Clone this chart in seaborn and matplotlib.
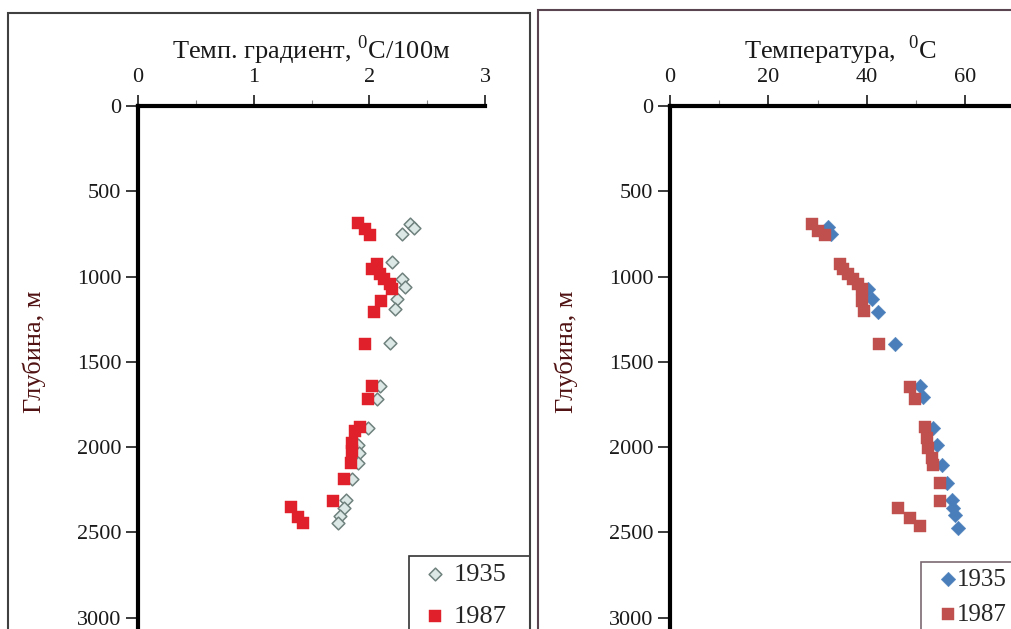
import seaborn as sns
import matplotlib.pyplot as plt
import pandas as pd
from matplotlib.patches import Rectangle
from matplotlib.ticker import MultipleLocator

# gradient panel (left)
grad_1935_depth = [695, 718, 753, 917, 1016, 1063, 1133, 1191, 1389, 1640, 1716,
                   1886, 1991, 2037, 2096, 2189, 2312, 2358, 2405, 2446]
grad_1935 = [2.35, 2.39, 2.28, 2.20, 2.28, 2.31, 2.24, 2.22, 2.18, 2.09, 2.07,
             1.99, 1.90, 1.91, 1.90, 1.85, 1.80, 1.78, 1.75, 1.73]
grad_1987_depth = [689, 724, 759, 928, 957, 987, 1016, 1045, 1074, 1144, 1208, 1395,
                   1640, 1716, 1880, 1909, 1979, 2026, 2096, 2189, 2318, 2353, 2411, 2446]
grad_1987 = [1.90, 1.96, 2.01, 2.07, 2.02, 2.09, 2.13, 2.18, 2.20, 2.10, 2.04, 1.96,
             2.02, 1.99, 1.92, 1.88, 1.85, 1.85, 1.84, 1.78, 1.69, 1.32, 1.38, 1.43]

# temperature panel (right)
temp_1935_depth = [712, 753, 1074, 1133, 1208, 1395, 1640, 1705, 1891, 1991, 2107,
                   2212, 2312, 2358, 2400, 2475]
temp_1935 = [32.1, 32.7, 40.2, 41.1, 42.3, 45.7, 50.8, 51.4, 53.5, 54.3, 55.3,
             56.3, 57.3, 57.5, 58.0, 58.5]
temp_1987_depth = [695, 735, 759, 928, 957, 987, 1016, 1045, 1074, 1144, 1203, 1395,
                   1646, 1716, 1880, 1950, 2008, 2067, 2107, 2212, 2318, 2358, 2417, 2464]
temp_1987 = [28.9, 30.1, 31.5, 34.6, 35.2, 36.2, 37.2, 38.2, 39.0, 39.0, 39.4, 42.5,
             48.8, 49.8, 51.8, 52.2, 52.4, 53.3, 53.5, 54.9, 54.9, 46.3, 48.8, 50.8]

depth_ticks = [0, 500, 1000, 1500, 2000, 2500, 3000]

sns.set_style('white')
plt.rcParams['font.family'] = ['Liberation Serif', 'DejaVu Serif']
plt.rcParams['mathtext.fontset'] = 'custom'
plt.rcParams['mathtext.rm'] = 'Liberation Serif'

W, H = 1011, 629
fig = plt.figure(figsize=(W / 100, H / 100), dpi=100)

# outer frames
fig.add_artist(Rectangle((8 / W, -0.1), 522 / W, 1.1 - 13 / H, transform=fig.transFigure,
                         fill=False, edgecolor='#404040', lw=1.5))
fig.add_artist(Rectangle((538 / W, -0.1), 0.6, 1.1 - 10 / H, transform=fig.transFigure,
                         fill=False, edgecolor='#5a4450', lw=1.5))

top = 106
ymax = (H - top) / 0.1705

ax1 = fig.add_axes([138 / W, 0, 347 / W, (H - top) / H])
ax2 = fig.add_axes([670 / W, 0, 341 / W, (H - top) / H])

df1a = pd.DataFrame({'x': grad_1935, 'depth': grad_1935_depth})
df1b = pd.DataFrame({'x': grad_1987, 'depth': grad_1987_depth})
sns.scatterplot(data=df1a, x='x', y='depth', ax=ax1, marker='D', s=42,
                color='#dce8e5', edgecolor='#6f817d', linewidth=1.1, label='1935', zorder=2)
sns.scatterplot(data=df1b, x='x', y='depth', ax=ax1, marker='s', s=85,
                color='#e0202a', edgecolor='#e0202a', linewidth=0.3, label='1987', zorder=3)

df2a = pd.DataFrame({'x': temp_1935, 'depth': temp_1935_depth})
df2b = pd.DataFrame({'x': temp_1987, 'depth': temp_1987_depth})
sns.scatterplot(data=df2a, x='x', y='depth', ax=ax2, marker='D', s=55,
                color='#4a7ebb', edgecolor='#4a7ebb', linewidth=0.3, label='1935', zorder=2)
sns.scatterplot(data=df2b, x='x', y='depth', ax=ax2, marker='s', s=85,
                color='#c0504d', edgecolor='#c0504d', linewidth=0.3, label='1987', zorder=3)

for ax, xmax, major, minor, xlabel, label_x in [
        (ax1, 3, 1, 0.5, 'Темп. градиент, $^{0}$C/100м', -0.266),
        (ax2, 341 / 4.92, 20, 10, 'Температура,  $^{0}$C', -0.27)]:
    ax.set_xlim(0, xmax)
    ax.set_ylim(ymax, 0)
    ax.xaxis.set_major_locator(MultipleLocator(major))
    ax.xaxis.set_minor_locator(MultipleLocator(minor))
    ax.set_yticks(depth_ticks)
    ax.xaxis.tick_top()
    ax.xaxis.set_label_position('top')
    ax.tick_params(axis='x', which='major', direction='out', length=8, width=1.2,
                   labelsize=16, pad=6, colors='#1a1a1a', top=True, bottom=False)
    ax.tick_params(axis='x', which='minor', direction='out', length=4, width=0.8,
                   color='#888888', top=True, bottom=False)
    ax.tick_params(axis='y', direction='out', length=9, width=1.2, labelsize=16,
                   pad=3, colors='#1a1a1a', left=True)
    for side in ['bottom', 'right']:
        ax.spines[side].set_visible(False)
    for side in ['top', 'left']:
        ax.spines[side].set_linewidth(3)
        ax.spines[side].set_color('black')
    ax.set_xlabel(xlabel, fontsize=19, color='#1a1a1a', labelpad=6)
    ax.set_ylabel('Глубина, м', fontsize=19, color='#501212')
    ax.yaxis.set_label_coords(label_x, 0.53)
    ax.patch.set_alpha(0)

leg1 = ax1.legend(loc='upper left', bbox_to_anchor=(409 / W, 1 - 556 / H, 121 / W, 0),
                  bbox_transform=fig.transFigure, mode='expand', fontsize=19,
                  frameon=True, fancybox=False, edgecolor='black', borderpad=0.25,
                  handletextpad=-0.05, handlelength=1.5, labelspacing=0.7, borderaxespad=0)
leg1.get_frame().set_linewidth(1.2)
leg2 = ax2.legend(loc='upper left', bbox_to_anchor=(921 / W, 1 - 562 / H, 120 / W, 0),
                  bbox_transform=fig.transFigure, mode='expand', fontsize=18,
                  frameon=True, fancybox=False, edgecolor='#5a4450', borderpad=0.25,
                  handletextpad=-0.45, handlelength=1.64, labelspacing=0.5, borderaxespad=0)
leg2.get_frame().set_linewidth(1.2)

fig.savefig('out.png', dpi=100)
